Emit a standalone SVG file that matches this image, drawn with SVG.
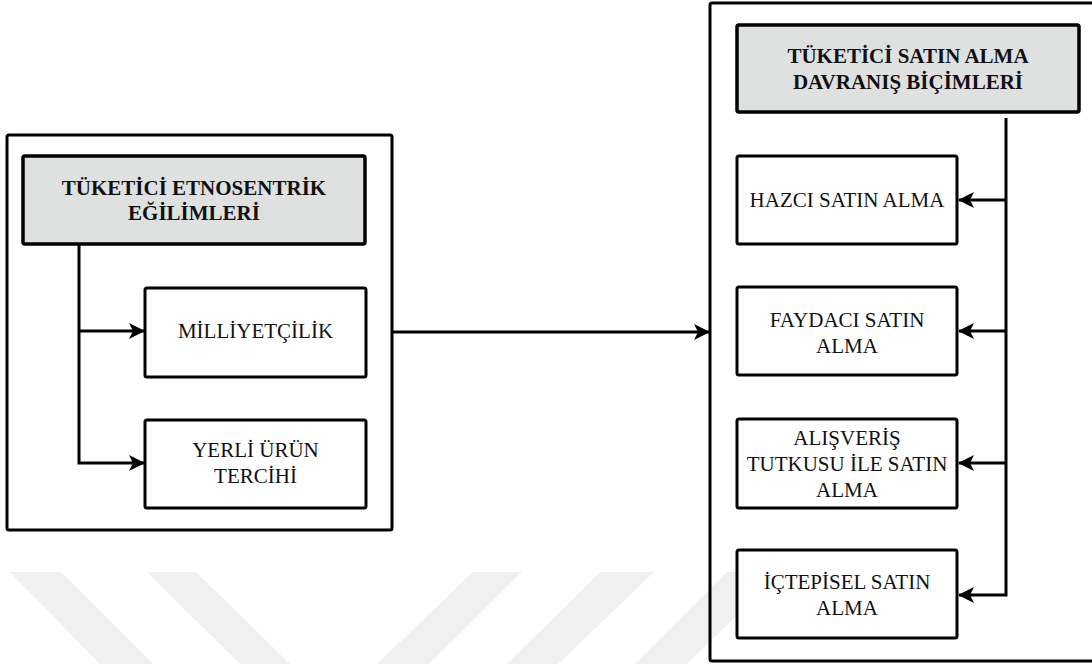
<svg xmlns="http://www.w3.org/2000/svg" width="1092" height="664" viewBox="0 0 1092 664">
<defs>
<style>
.box{fill:none;stroke:#000;stroke-width:3;}
.wbox{fill:#fff;stroke:#000;stroke-width:3;}
.hdr{fill:#dfe1e1;stroke:#000;stroke-width:3.5;}
text{font-family:'Liberation Serif','DejaVu Serif',serif;font-size:21px;fill:#111;text-anchor:middle;}
.b{font-weight:bold;}
.con{fill:none;stroke:#000;stroke-width:3;marker-end:url(#ah);}
.wm{fill:#f0f0f0;}
</style>
<marker id="ah" viewBox="0 0 16 16" refX="15" refY="8" markerWidth="16" markerHeight="16" markerUnits="userSpaceOnUse" orient="auto">
<path d="M0,0 L16,8 L0,16 L4,8 Z" fill="#000"/>
</marker>
</defs>
<rect width="1092" height="664" fill="#fff"/>
<g id="watermark">
<polygon class="wm" points="10,572 61,572 153,664 100,664"/>
<polygon class="wm" points="147,572 196,572 290,664 240,664"/>
<polygon class="wm" points="473,572 522,572 429,664 377,664"/>
<polygon class="wm" points="600,572 654,572 558,664 507,664"/>
<polygon class="wm" points="727,572 781,572 687,664 635,664"/>
</g>
<g id="left-group">
<rect class="box" x="7" y="135" width="385" height="395" rx="2"/>
</g>
<g id="right-group">
<rect class="box" x="710" y="3" width="400" height="658" rx="2"/>
</g>
<g font-family="Liberation Serif, serif">
<g id="etnosentrik">
<rect class="hdr" x="23" y="156" width="342" height="88" rx="2"/>
<text class="b" x="194" y="195">TÜKETİCİ ETNOSENTRİK</text>
<text class="b" x="194" y="220">EĞİLİMLERİ</text>
</g>
<g id="milliyetcilik">
<rect class="wbox" x="145" y="288" width="221" height="89" rx="2"/>
<text x="255.5" y="338">MİLLİYETÇİLİK</text>
</g>
<g id="yerli">
<rect class="wbox" x="145" y="420" width="221" height="88" rx="2"/>
<text x="255.5" y="457">YERLİ ÜRÜN</text>
<text x="255.5" y="483">TERCİHİ</text>
</g>
<g id="davranis">
<rect class="hdr" x="737" y="25" width="342" height="87" rx="2"/>
<text class="b" x="908" y="63">TÜKETİCİ SATIN ALMA</text>
<text class="b" x="908" y="89">DAVRANIŞ BİÇİMLERİ</text>
</g>
<g id="hazci">
<rect class="wbox" x="737" y="156" width="220" height="88" rx="2"/>
<text x="847" y="207">HAZCI SATIN ALMA</text>
</g>
<g id="faydaci">
<rect class="wbox" x="737" y="287" width="220" height="88" rx="2"/>
<text x="847" y="327">FAYDACI SATIN</text>
<text x="847" y="353">ALMA</text>
</g>
<g id="alisveris">
<rect class="wbox" x="737" y="419" width="220" height="89" rx="2"/>
<text x="847" y="445">ALIŞVERİŞ</text>
<text x="847" y="471">TUTKUSU İLE SATIN</text>
<text x="847" y="497">ALMA</text>
</g>
<g id="ictepisel">
<rect class="wbox" x="737" y="550" width="220" height="88" rx="2"/>
<text x="847" y="589">İÇTEPİSEL SATIN</text>
<text x="847" y="615">ALMA</text>
</g>
</g>
<g id="connectors">
<path class="con" d="M79,244 V463 H144"/>
<path class="con" d="M79,331 H144"/>
<path class="con" d="M393,332 H709"/>
<path class="con" d="M1006,118 V595 H959"/>
<path class="con" d="M1006,200 H959"/>
<path class="con" d="M1006,331 H959"/>
<path class="con" d="M1006,463 H959"/>
</g>
</svg>
